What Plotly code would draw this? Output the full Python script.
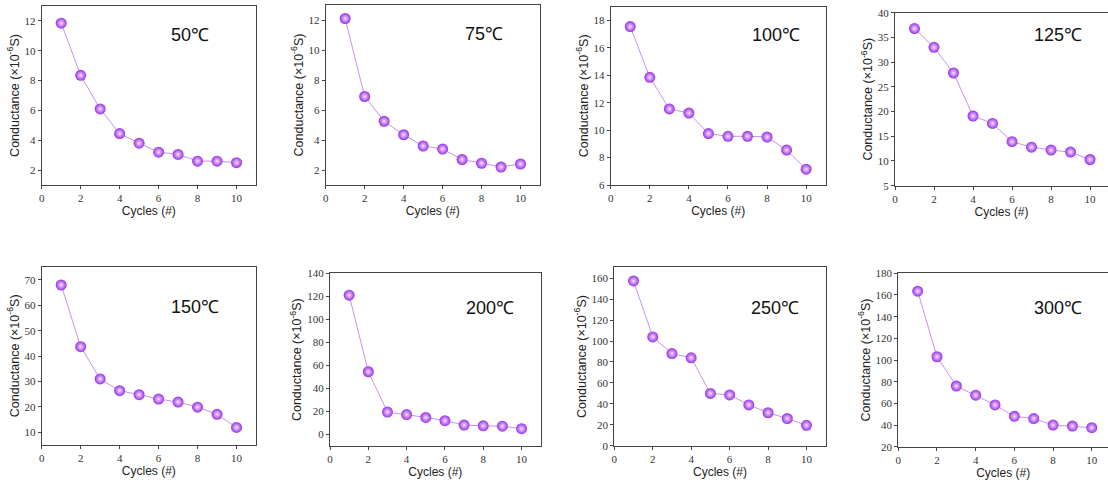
import plotly.graph_objects as go

cycles = [1, 2, 3, 4, 5, 6, 7, 8, 9, 10]
temps = ["50℃", "75℃", "100℃", "125℃", "150℃", "200℃", "250℃", "300℃"]
g50 = [11.85, 8.35, 6.1, 4.45, 3.8, 3.2, 3.05, 2.6, 2.6, 2.5]
g75 = [12.1, 6.9, 5.25, 4.35, 3.6, 3.4, 2.7, 2.45, 2.2, 2.4]
g100 = [17.55, 13.85, 11.55, 11.25, 9.75, 9.55, 9.55, 9.5, 8.55, 7.15]
g125 = [36.8, 33.0, 27.8, 19.1, 17.6, 13.9, 12.8, 12.2, 11.8, 10.3]
g150 = [68.0, 43.7, 31.0, 26.4, 24.8, 23.1, 21.9, 19.9, 17.1, 11.9]
g200 = [121.0, 54.5, 19.5, 17.3, 14.8, 12.0, 8.2, 7.5, 7.2, 5.0]
g250 = [157.5, 104.0, 88.0, 84.0, 50.0, 48.5, 39.0, 31.5, 26.0, 19.5]
g300 = [163.5, 103.0, 76.0, 67.5, 58.5, 48.0, 46.0, 40.0, 39.0, 37.5]
series = [g50, g75, g100, g125, g150, g200, g250, g300]

y_ranges = [[1, 13], [1, 13], [6, 19], [5, 40], [5, 75.2], [-10, 140], [0, 170.5], [20, 180]]
y_dticks = [2, 2, 2, 5, 10, 20, 20, 20]
y_tick0 = [2, 2, 6, 5, 10, 0, 0, 20]
x_ranges = [[0, 11], [0, 11], [0, 11], [0, 10.92], [0, 11], [0, 11], [0, 11], [0, 10.84]]

W, H = 1108, 482
# plot areas in pixels: (left, right, top, bottom)
boxes = [
    (41.7, 256, 6, 185), (325.7, 540, 5, 185), (610.7, 825.7, 6.7, 185), (895, 1108, 12.7, 185.7),
    (41.7, 256, 266.7, 445), (330, 540.7, 273.3, 446), (614.3, 825.7, 267.3, 445.7), (898.3, 1108, 273.3, 446.7),
]
label_pos = [(190, 35), (484, 34), (776, 35), (1058, 35), (195, 307), (490, 308), (775, 308), (1058, 308)]

fig = go.Figure()
layout = dict(width=W, height=H, margin=dict(l=0, r=0, t=0, b=0, autoexpand=False),
              paper_bgcolor="white", plot_bgcolor="white", showlegend=False)
annotations = []
for i, (vals, name) in enumerate(zip(series, temps)):
    k = i + 1
    xa = "x" if k == 1 else f"x{k}"
    ya = "y" if k == 1 else f"y{k}"
    fig.add_trace(go.Scatter(
        x=cycles, y=vals, xaxis=xa, yaxis=ya, mode="lines+markers",
        line=dict(color="#c890ec", width=1),
        marker=dict(size=11, color="#9a2fe6",
                    gradient=dict(type="radial", color="#f4e0ff"),
                    line=dict(width=0)),
        name=name))
    l, r, t, b = boxes[i]
    axx = dict(domain=[l / W, min(r / W, 1.0)], range=x_ranges[i], dtick=2, tick0=0,
               showgrid=False, zeroline=False, showline=True, linecolor="#444", linewidth=1,
               mirror=True, ticks="outside", ticklen=3, tickcolor="#444", automargin=False,
               tickfont=dict(family="Liberation Serif, Times New Roman, serif", size=11, color="#333"),
               title=dict(text="Cycles (#)", font=dict(family="Liberation Sans", size=12, color="#222"),
                          standoff=0),
               anchor=ya, fixedrange=True)
    axy = dict(domain=[1 - b / H, 1 - t / H], range=y_ranges[i], dtick=y_dticks[i], tick0=y_tick0[i],
               showgrid=False, zeroline=False, showline=True, linecolor="#444", linewidth=1,
               mirror=True, ticks="outside", ticklen=3, tickcolor="#444", automargin=False,
               tickfont=dict(family="Liberation Serif, Times New Roman, serif", size=11, color="#333"),
               title=dict(text="Conductance (×10<sup>-6</sup>S)",
                          font=dict(family="Liberation Sans", size=12.5, color="#222"), standoff=2),
               anchor=xa, fixedrange=True)
    layout["xaxis" if k == 1 else f"xaxis{k}"] = axx
    layout["yaxis" if k == 1 else f"yaxis{k}"] = axy
    px, py = label_pos[i]
    annotations.append(dict(x=px / W, y=1 - py / H, xref="paper", yref="paper", text=name,
                            showarrow=False, xanchor="center", yanchor="middle",
                            font=dict(family="Liberation Sans", size=18, color="#111")))
layout["annotations"] = annotations
fig.update_layout(**layout)
fig.write_html("out.html", config={"displayModeBar": False},
               post_script="document.body.style.margin='0';document.body.style.overflow='hidden';")
